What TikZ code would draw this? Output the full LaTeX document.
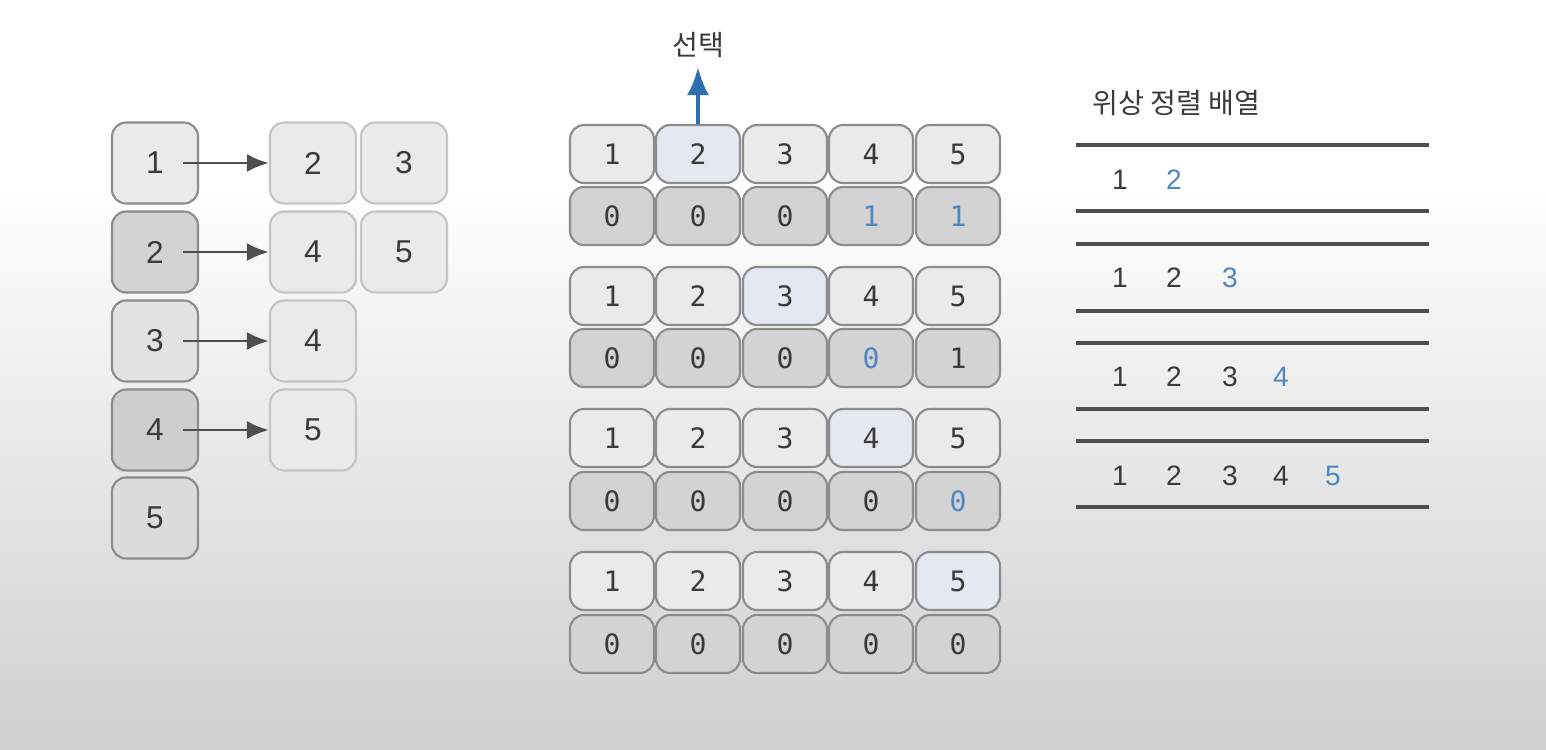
\documentclass[tikz,border=0pt]{standalone}
\usepackage{fontspec}
\setmainfont{Liberation Sans}
\setmonofont{DejaVu Sans Mono}
\newfontfamily\krfont{Noto Sans CJK KR}
\usepackage{tikz}
\usetikzlibrary{arrows.meta, calc}

\definecolor{boxline}{HTML}{8C8C8C}
\definecolor{lightline}{HTML}{C4C4C4}
\definecolor{upfill}{HTML}{EAEAEA}
\definecolor{downfill}{HTML}{D3D3D3}
\definecolor{pickfill}{HTML}{E3E8F1}
\definecolor{pickblue}{HTML}{4F86BE}
\definecolor{arrowblue}{HTML}{2E6DAE}
\definecolor{inkgray}{HTML}{3A3A3A}
\definecolor{rulegray}{HTML}{4E4E4E}

\begin{document}
\begin{tikzpicture}[
	every node/.style={text=inkgray, font=\fontsize{8}{10}\selectfont},
	vertbox/.style={draw=boxline, line width=0.6pt, rounded corners=4pt, minimum width=0.86cm, minimum height=0.81cm, font=\fontsize{9}{11}\selectfont},
	adjbox/.style={draw=lightline, line width=0.6pt, rounded corners=4pt, fill=upfill, minimum width=0.86cm, minimum height=0.81cm, font=\fontsize{9}{11}\selectfont},
	numcell/.style={draw=boxline, line width=0.6pt, rounded corners=4pt, fill=upfill, minimum width=0.84cm, minimum height=0.58cm, font=\ttfamily\fontsize{8}{10}\selectfont},
	degcell/.style={numcell, fill=downfill},
	link/.style={draw=rulegray, line width=0.8pt, -{Latex[length=2.2mm, width=1.8mm]}},
	rule/.style={draw=rulegray, line width=0.9pt}
	]
	% background
	\fill[white] (0,0) rectangle (15.46,-1.8);
	\shade[top color=white, bottom color={rgb,255:red,207;green,207;blue,207}] (0,-1.8) rectangle (15.46,-7.5);
	\useasboundingbox (0,0) rectangle (15.46,-7.5);

	% adjacency list
	\node[vertbox, fill=upfill] (v1) at (1.55,-1.63) {1};
	\node[vertbox, fill=downfill] (v2) at (1.55,-2.52) {2};
	\node[vertbox, fill={rgb,255:red,226;green,226;blue,226}] (v3) at (1.55,-3.41) {3};
	\node[vertbox, fill={rgb,255:red,206;green,206;blue,206}] (v4) at (1.55,-4.30) {4};
	\node[vertbox, fill={rgb,255:red,219;green,219;blue,219}] (v5) at (1.55,-5.18) {5};

	\node[adjbox] (a12) at (3.13,-1.63) {2};
	\node[adjbox] (a13) at (4.04,-1.63) {3};
	\node[adjbox] (a24) at (3.13,-2.52) {4};
	\node[adjbox] (a25) at (4.04,-2.52) {5};
	\node[adjbox] (a34) at (3.13,-3.41) {4};
	\node[adjbox] (a45) at (3.13,-4.30) {5};

	\draw[link] ([xshift=0.28cm]v1.center) -- (a12.west);
	\draw[link] ([xshift=0.28cm]v2.center) -- (a24.west);
	\draw[link] ([xshift=0.28cm]v3.center) -- (a34.west);
	\draw[link] ([xshift=0.28cm]v4.center) -- (a45.west);

	% in-degree table, step 1
	\node[numcell] (p11) at (6.12,-1.54) {1};
	\node[numcell, fill=pickfill] (p12) at (6.98,-1.54) {2};
	\node[numcell] (p13) at (7.85,-1.54) {3};
	\node[numcell] (p14) at (8.71,-1.54) {4};
	\node[numcell] (p15) at (9.58,-1.54) {5};
	\node[degcell] (d11) at (6.12,-2.16) {0};
	\node[degcell] (d12) at (6.98,-2.16) {0};
	\node[degcell] (d13) at (7.85,-2.16) {0};
	\node[degcell, text=pickblue] (d14) at (8.71,-2.16) {1};
	\node[degcell, text=pickblue] (d15) at (9.58,-2.16) {1};

	% step 2
	\node[numcell] (p21) at (6.12,-2.96) {1};
	\node[numcell] (p22) at (6.98,-2.96) {2};
	\node[numcell, fill=pickfill] (p23) at (7.85,-2.96) {3};
	\node[numcell] (p24) at (8.71,-2.96) {4};
	\node[numcell] (p25) at (9.58,-2.96) {5};
	\node[degcell] (d21) at (6.12,-3.58) {0};
	\node[degcell] (d22) at (6.98,-3.58) {0};
	\node[degcell] (d23) at (7.85,-3.58) {0};
	\node[degcell, text=pickblue] (d24) at (8.71,-3.58) {0};
	\node[degcell] (d25) at (9.58,-3.58) {1};

	% step 3
	\node[numcell] (p31) at (6.12,-4.38) {1};
	\node[numcell] (p32) at (6.98,-4.38) {2};
	\node[numcell] (p33) at (7.85,-4.38) {3};
	\node[numcell, fill=pickfill] (p34) at (8.71,-4.38) {4};
	\node[numcell] (p35) at (9.58,-4.38) {5};
	\node[degcell] (d31) at (6.12,-5.01) {0};
	\node[degcell] (d32) at (6.98,-5.01) {0};
	\node[degcell] (d33) at (7.85,-5.01) {0};
	\node[degcell] (d34) at (8.71,-5.01) {0};
	\node[degcell, text=pickblue] (d35) at (9.58,-5.01) {0};

	% step 4
	\node[numcell] (p41) at (6.12,-5.81) {1};
	\node[numcell] (p42) at (6.98,-5.81) {2};
	\node[numcell] (p43) at (7.85,-5.81) {3};
	\node[numcell] (p44) at (8.71,-5.81) {4};
	\node[numcell, fill=pickfill] (p45) at (9.58,-5.81) {5};
	\node[degcell] (d41) at (6.12,-6.44) {0};
	\node[degcell] (d42) at (6.98,-6.44) {0};
	\node[degcell] (d43) at (7.85,-6.44) {0};
	\node[degcell] (d44) at (8.71,-6.44) {0};
	\node[degcell] (d45) at (9.58,-6.44) {0};

	\coordinate (pick) at (6.98,-0.67);
	\node[font=\krfont\fontsize{8}{10}\selectfont] (picklabel) at (6.98,-0.45) {선택};
	\draw[draw=arrowblue, line width=1.1pt, -{Latex[length=2.8mm, width=2.2mm]}] (p12.north) -- (pick);

	% result array
	\node[anchor=west, font=\krfont\fontsize{8}{10}\selectfont] (title) at (10.80,-1.03) {위상 정렬 배열};
	\draw[rule] (10.76,-1.45) -- (14.29,-1.45);
	\draw[rule] (10.76,-2.11) -- (14.29,-2.11);
	\draw[rule] (10.76,-2.44) -- (14.29,-2.44);
	\draw[rule] (10.76,-3.11) -- (14.29,-3.11);
	\draw[rule] (10.76,-3.43) -- (14.29,-3.43);
	\draw[rule] (10.76,-4.09) -- (14.29,-4.09);
	\draw[rule] (10.76,-4.41) -- (14.29,-4.41);
	\draw[rule] (10.76,-5.07) -- (14.29,-5.07);

	\node (r11) at (11.20,-1.80) {1};
	\node[text=pickblue] (r12) at (11.74,-1.80) {2};

	\node (r21) at (11.20,-2.78) {1};
	\node (r22) at (11.74,-2.78) {2};
	\node[text=pickblue] (r23) at (12.30,-2.78) {3};

	\node (r31) at (11.20,-3.77) {1};
	\node (r32) at (11.74,-3.77) {2};
	\node (r33) at (12.30,-3.77) {3};
	\node[text=pickblue] (r34) at (12.81,-3.77) {4};

	\node (r41) at (11.20,-4.76) {1};
	\node (r42) at (11.74,-4.76) {2};
	\node (r43) at (12.30,-4.76) {3};
	\node (r44) at (12.81,-4.76) {4};
	\node[text=pickblue] (r45) at (13.33,-4.76) {5};
\end{tikzpicture}
\end{document}
